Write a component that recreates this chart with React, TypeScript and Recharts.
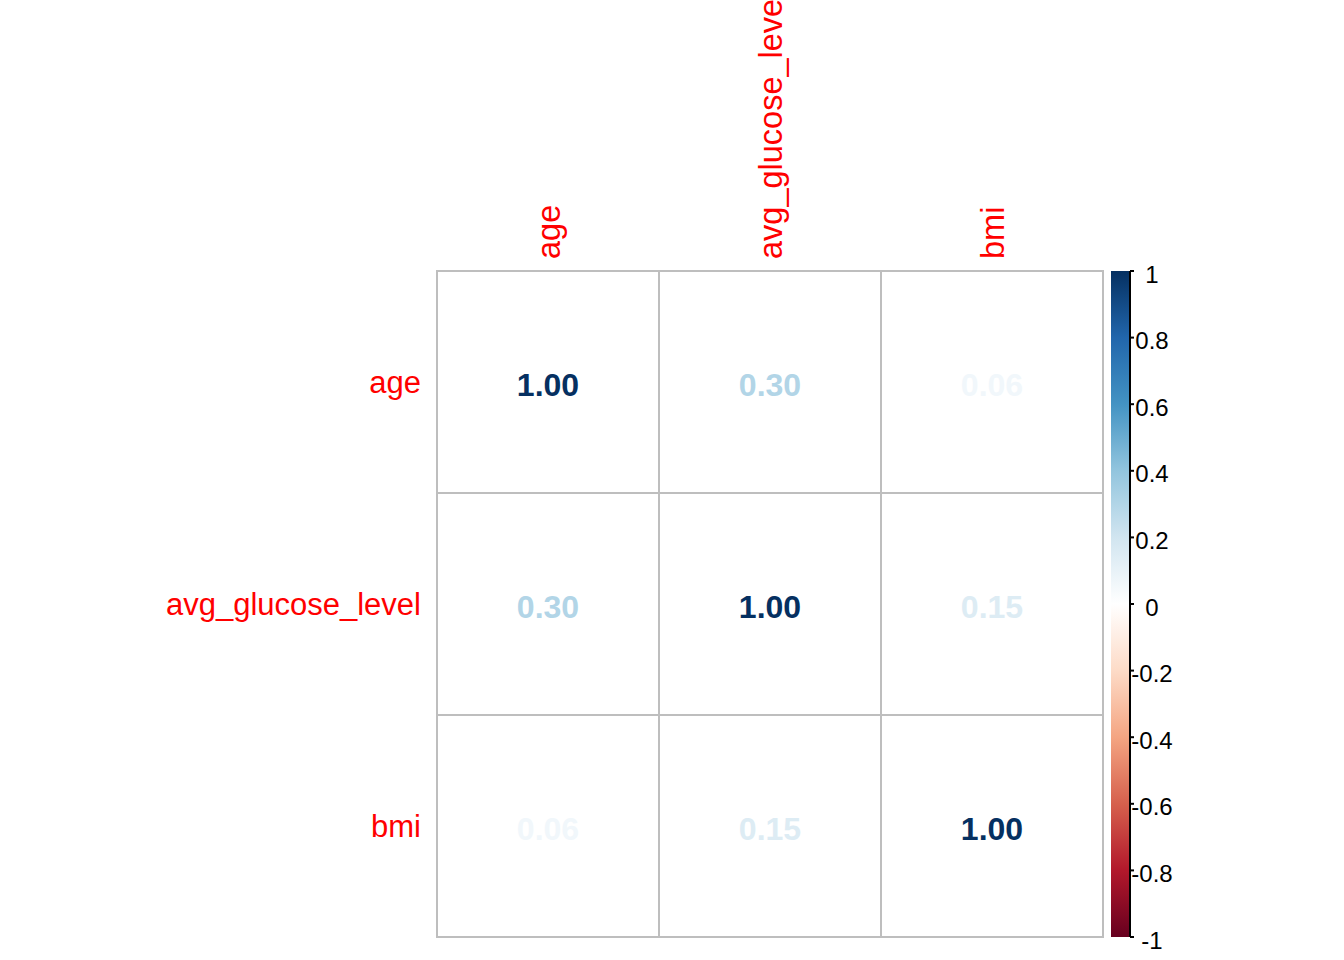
import React from 'react';
import { ScatterChart, Scatter, XAxis, YAxis, ReferenceArea, BarChart, Bar } from 'recharts';

const VARS = ['age', 'avg_glucose_level', 'bmi'];
const CORR_AGE = [1.0, 0.3, 0.06];
const CORR_GLUCOSE = [0.3, 1.0, 0.15];
const CORR_BMI = [0.06, 0.15, 1.0];
const CORR = [CORR_AGE, CORR_GLUCOSE, CORR_BMI];
const CELL_TICKS = [0.5, 1.5, 2.5];
const BAR_TICKS = [-1, -0.8, -0.6, -0.4, -0.2, 0, 0.2, 0.4, 0.6, 0.8, 1];
// corrplot COL2('RdBu') anchor colours, -1 -> 1
const RDBU = ['#67001F', '#B2182B', '#D6604D', '#F4A582', '#FDDBC7', '#FFFFFF', '#D1E5F0', '#92C5DE', '#4393C3', '#2166AC', '#053061'];

const FONT = '"Liberation Sans", Arial, sans-serif';

function hexToRgb(h: string) {
  return [1, 3, 5].map((i) => parseInt(h.slice(i, i + 2), 16));
}

function corrColor(v: number) {
  const pos = ((v + 1) / 2) * (RDBU.length - 1);
  const i = Math.min(Math.floor(pos), RDBU.length - 2);
  const t = pos - i;
  const a = hexToRgb(RDBU[i]);
  const b = hexToRgb(RDBU[i + 1]);
  const c = a.map((x, k) => Math.round(x + (b[k] - x) * t));
  return `rgb(${c[0]},${c[1]},${c[2]})`;
}

const points = CORR.flatMap((row, i) => row.map((v, j) => ({ x: j + 0.5, y: i + 0.5, v })));
const colorbarData = [{ name: 'scale', range: [-1, 1] }];

const TopTick = ({ x, y, payload }: any) => (
  <text x={x} y={y} dy="0.36em" transform={`rotate(-90 ${x} ${y})`} textAnchor="start" fill="#FF0000" fontSize={32.5} fontFamily={FONT}>
    {VARS[Math.floor(payload.value)]}
  </text>
);

const LeftTick = ({ x, y, payload }: any) => (
  <text x={x} y={y} dy="0.36em" textAnchor="end" fill="#FF0000" fontSize={31} fontFamily={FONT}>
    {VARS[Math.floor(payload.value)]}
  </text>
);

const NumberShape = ({ cx, cy, payload }: any) => (
  <text x={cx} y={cy} dy="0.44em" textAnchor="middle" fill={corrColor(payload.v)} fontSize={32} fontWeight="bold" fontFamily={FONT}>
    {payload.v.toFixed(2)}
  </text>
);

export default function App() {
  return (
    <div style={{ position: 'absolute', left: 0, top: 0, width: 1344, height: 960, background: '#fff' }}>
      <ScatterChart width={1344} height={960} margin={{ top: 0, right: 241, bottom: 23, left: 0 }}>
        <XAxis
          xAxisId={0}
          type="number"
          dataKey="x"
          orientation="top"
          domain={[0, 3]}
          ticks={CELL_TICKS}
          interval={0}
          height={271}
          tickSize={0}
          tickMargin={12}
          axisLine={false}
          tickLine={false}
          tick={<TopTick />}
        />
        <YAxis
          yAxisId={0}
          type="number"
          dataKey="y"
          domain={[0, 3]}
          reversed
          ticks={CELL_TICKS}
          interval={0}
          width={437}
          tickSize={0}
          tickMargin={16}
          axisLine={false}
          tickLine={false}
          tick={<LeftTick />}
        />
        {CORR.map((row, i) =>
          row.map((_, j) => (
            <ReferenceArea
              key={`${i}-${j}`}
              x1={j}
              x2={j + 1}
              y1={i}
              y2={i + 1}
              fill="#FFFFFF"
              fillOpacity={1}
              stroke="#BEBEBE"
              strokeWidth={2}
            />
          ))
        )}
        <Scatter data={points} shape={<NumberShape />} isAnimationActive={false} />
      </ScatterChart>

      <div style={{ position: 'absolute', left: 1100, top: 261 }}>
        <BarChart width={100} height={699} data={colorbarData} margin={{ top: 10, right: 0, bottom: 23, left: 11 }} barCategoryGap={0}>
          <defs>
            <linearGradient id="cbar" x1="0" y1="0" x2="0" y2="1">
              {RDBU.slice()
                .reverse()
                .map((c, k) => (
                  <stop key={k} offset={`${k * 10}%`} stopColor={c} />
                ))}
            </linearGradient>
          </defs>
          <XAxis dataKey="name" hide />
          <YAxis
            orientation="right"
            type="number"
            domain={[-1, 1]}
            ticks={BAR_TICKS}
            interval={0}
            width={70}
            tickSize={4}
            tickMargin={18}
            axisLine={{ stroke: '#000', strokeWidth: 2 }}
            tickLine={{ stroke: '#000', strokeWidth: 2 }}
            tick={{ fill: '#000', fontSize: 24, fontFamily: FONT, dy: 3, textAnchor: 'middle' }}
            tickFormatter={(v: number) => String(v)}
          />
          <Bar dataKey="range" fill="url(#cbar)" isAnimationActive={false} />
        </BarChart>
      </div>
    </div>
  );
}
